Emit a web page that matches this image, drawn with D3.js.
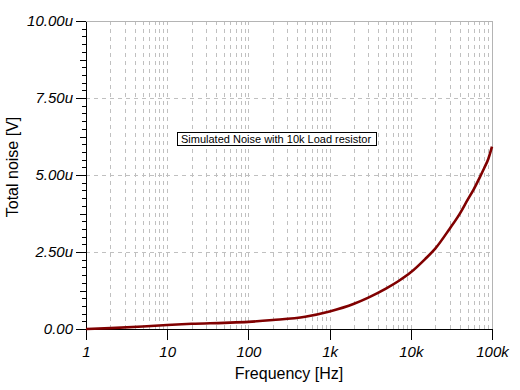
<!DOCTYPE html>
<html lang="en">
<head>
<meta charset="UTF-8">
<title>Total noise</title>
<script src="https://cdn.jsdelivr.net/npm/d3@7"></script>
<style>
  body{margin:0;background:#fff;}
  svg{font-family:"Liberation Sans",Arial,sans-serif;}
  .grid line{stroke:#c0c0c0;stroke-dasharray:4,4;shape-rendering:crispEdges;}
  .axis path,.axis line{stroke:#000;shape-rendering:crispEdges;}
  .axis text{font-size:15px;font-style:italic;fill:#000;}
  .noise{fill:none;stroke:#800000;stroke-width:2.6;}
</style>
</head>
<body>
<svg id="chart" width="520" height="390"></svg>
<script>
// frequency [Hz] and total noise [uV]
const freq  = [1, 2, 5, 10, 20, 50, 100, 200, 500, 1000, 2000, 3000, 5000, 7000,
               10000, 15000, 20000, 30000, 40000, 50000, 60000, 70000, 80000, 90000, 100000]
const noise = [0, 0.03, 0.08, 0.13, 0.17, 0.20, 0.23, 0.29, 0.40, 0.57, 0.82, 1.02, 1.32, 1.55,
               1.84, 2.27, 2.61, 3.25, 3.74, 4.19, 4.55, 4.90, 5.22, 5.52, 5.92]
const xTicks = [1, 10, 100, 1000, 10000, 100000]
const xTickLabels = ["1", "10", "100", "1k", "10k", "100k"]
const yTicks = [0, 2.5, 5, 7.5, 10]
const yTickLabels = ["0.00", "2.50u", "5.00u", "7.50u", "10.00u"]
const title = "Simulated Noise with 10k Load resistor"

const pL = 86, pR = 492, pT = 21, pB = 329
const svg = d3.select("#chart")

const x = d3.scaleLog().domain([1, 1e5]).range([pL, pR])
const y = d3.scaleLinear().domain([0, 10]).range([pB, pT])

// vertical grid at 2..10 of each decade
let xGrid = []
for (let d = 1; d < 1e5; d *= 10)
  for (let k = 2; k <= 10; k++) if (d * k < 1e5) xGrid.push(d * k)

svg.append("g").attr("class", "grid")
  .selectAll("line").data(xGrid).join("line")
  .attr("x1", d => Math.round(x(d)) + 0.5).attr("x2", d => Math.round(x(d)) + 0.5)
  .attr("y1", pT).attr("y2", pB)

svg.append("g").attr("class", "grid")
  .selectAll("line").data([2.5, 5, 7.5]).join("line")
  .attr("x1", pL).attr("x2", pR)
  .attr("y1", d => Math.round(y(d)) + 0.5).attr("y2", d => Math.round(y(d)) + 0.5)

// top and right frame
svg.append("path")
  .attr("d", `M${pL},${pT + 0.5}H${pR + 0.5}V${pB}`)
  .attr("fill", "none").attr("stroke", "#b4b4b4").attr("shape-rendering", "crispEdges")

// y axis with minor ticks
let yMinor = d3.range(0, 10.001, 0.25).filter(v => v % 1.25 !== 0)
let yMid = [1.25, 3.75, 6.25, 8.75]
svg.append("g").attr("class", "axis").attr("transform", `translate(${pL},0)`)
  .call(d3.axisLeft(y).tickValues(yMinor).tickSize(4).tickSizeOuter(0).tickFormat(""))
svg.append("g").attr("class", "axis").attr("transform", `translate(${pL},0)`)
  .call(d3.axisLeft(y).tickValues(yMid).tickSize(6).tickSizeOuter(0).tickFormat(""))
svg.append("g").attr("class", "axis").attr("transform", `translate(${pL},0)`)
  .call(d3.axisLeft(y).tickValues(yTicks).tickSize(10).tickSizeOuter(0).tickPadding(3)
    .tickFormat((d, i) => yTickLabels[i]))

svg.append("g").attr("class", "axis").attr("transform", `translate(0,${pB})`)
  .call(d3.axisBottom(x).tickValues(xTicks).tickSize(11).tickSizeOuter(0).tickPadding(6)
    .tickFormat((d, i) => xTickLabels[i]))

// curve
const line = d3.line().x((d, i) => x(freq[i])).y(d => y(d)).curve(d3.curveMonotoneX)
svg.append("path").datum(noise).attr("class", "noise").attr("d", line)

// annotation
svg.append("rect").attr("x", 177.5).attr("y", 132.5).attr("width", 199).attr("height", 13)
  .attr("fill", "#fff").attr("stroke", "#000")
svg.append("text").attr("x", 181).attr("y", 143).attr("font-size", 11).text(title)

// axis titles
svg.append("text").attr("x", 289).attr("y", 379).attr("text-anchor", "middle")
  .attr("font-size", 16).text("Frequency [Hz]")
svg.append("text").attr("transform", "translate(18,167) rotate(-90)").attr("text-anchor", "middle")
  .attr("font-size", 16).text("Total noise [V]")
</script>
</body>
</html>
